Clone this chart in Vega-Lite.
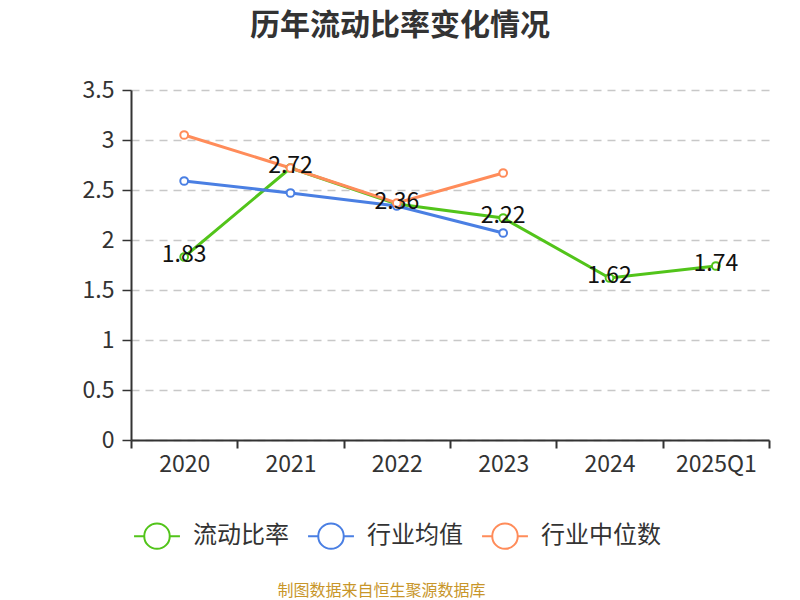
{
  "$schema": "https://vega.github.io/schema/vega-lite/v6.json",
  "width": 638,
  "height": 350,
  "autosize": "none",
  "padding": {"left": 131, "top": 90, "right": 31, "bottom": 160},
  "background": "white",
  "title": {
    "text": "历年流动比率变化情况",
    "anchor": "middle",
    "frame": "group",
    "dx": -50,
    "offset": 38,
    "fontSize": 30,
    "fontWeight": "bold",
    "color": "#333333",
    "font": "Noto Sans CJK SC"
  },
  "config": {
    "view": {"stroke": null},
    "font": "Noto Sans CJK SC"
  },
  "data": {
    "values": [
      {"year": "2020", "series": "流动比率", "value": 1.83},
      {"year": "2021", "series": "流动比率", "value": 2.72},
      {"year": "2022", "series": "流动比率", "value": 2.36},
      {"year": "2023", "series": "流动比率", "value": 2.22},
      {"year": "2024", "series": "流动比率", "value": 1.62},
      {"year": "2025Q1", "series": "流动比率", "value": 1.74},
      {"year": "2020", "series": "行业均值", "value": 2.59},
      {"year": "2021", "series": "行业均值", "value": 2.47},
      {"year": "2022", "series": "行业均值", "value": 2.34},
      {"year": "2023", "series": "行业均值", "value": 2.07},
      {"year": "2020", "series": "行业中位数", "value": 3.05},
      {"year": "2021", "series": "行业中位数", "value": 2.72},
      {"year": "2022", "series": "行业中位数", "value": 2.37},
      {"year": "2023", "series": "行业中位数", "value": 2.67}
    ]
  },
  "encoding": {
    "x": {
      "field": "year",
      "type": "ordinal",
      "bandPosition": 0.5,
      "scale": {"type": "band", "paddingInner": 0, "paddingOuter": 0},
      "axis": {
        "title": "制图数据来自恒生聚源数据库",
        "titleFontSize": 16,
        "titleFontWeight": "normal",
        "titleColor": "#c8962a",
        "titleX": 250,
        "titleY": 142,
        "titleAnchor": "middle",
        "labelAngle": 0,
        "labelFontSize": 23,
        "labelColor": "#333333",
        "labelPadding": 5,
        "tickBand": "extent",
        "tickSize": 8,
        "tickWidth": 2,
        "tickColor": "#333333",
        "domainColor": "#333333",
        "domainWidth": 2,
        "grid": false
      }
    },
    "y": {
      "field": "value",
      "type": "quantitative",
      "scale": {"domain": [0, 3.5], "nice": false},
      "axis": {
        "title": null,
        "values": [0, 0.5, 1, 1.5, 2, 2.5, 3, 3.5],
        "format": "~g",
        "labelFontSize": 23,
        "labelColor": "#333333",
        "labelPadding": 8,
        "tickSize": 9,
        "tickWidth": 1.5,
        "tickColor": "#333333",
        "domainColor": "#333333",
        "domainWidth": 2,
        "grid": true,
        "gridColor": "#c8c8c8",
        "gridDash": [8, 6],
        "gridWidth": 1.5
      }
    }
  },
  "layer": [
    {
      "mark": {
        "type": "line",
        "strokeWidth": 3,
        "point": {"filled": false, "fill": "white", "size": 60, "strokeWidth": 2, "opacity": 1}
      },
      "encoding": {
        "color": {
          "field": "series",
          "type": "nominal",
          "sort": ["流动比率", "行业均值", "行业中位数"],
          "scale": {
            "domain": ["流动比率", "行业均值", "行业中位数"],
            "range": ["#52c41a", "#4a7fe3", "#ff8c5a"]
          },
          "legend": {
            "title": null,
            "orient": "none",
            "direction": "horizontal",
            "legendX": 12,
            "legendY": 432,
            "symbolType": "M-1.8,0L-1,0M1,0L1.8,0M-1,0A1,1 0 1 1 1,0A1,1 0 1 1 -1,0Z",
            "symbolSize": 650,
            "symbolStrokeWidth": 2,
            "symbolFillColor": "white",
            "symbolOpacity": 1,
            "labelFontSize": 24,
            "labelColor": "#333333",
            "labelOffset": 22,
            "columnPadding": 15
          }
        }
      }
    },
    {
      "transform": [{"filter": "datum.series === '流动比率'"}],
      "mark": {"type": "text", "fontSize": 23, "color": "#111111", "dy": -2},
      "encoding": {
        "text": {"field": "value", "type": "quantitative", "format": ".2f"}
      }
    }
  ]
}
